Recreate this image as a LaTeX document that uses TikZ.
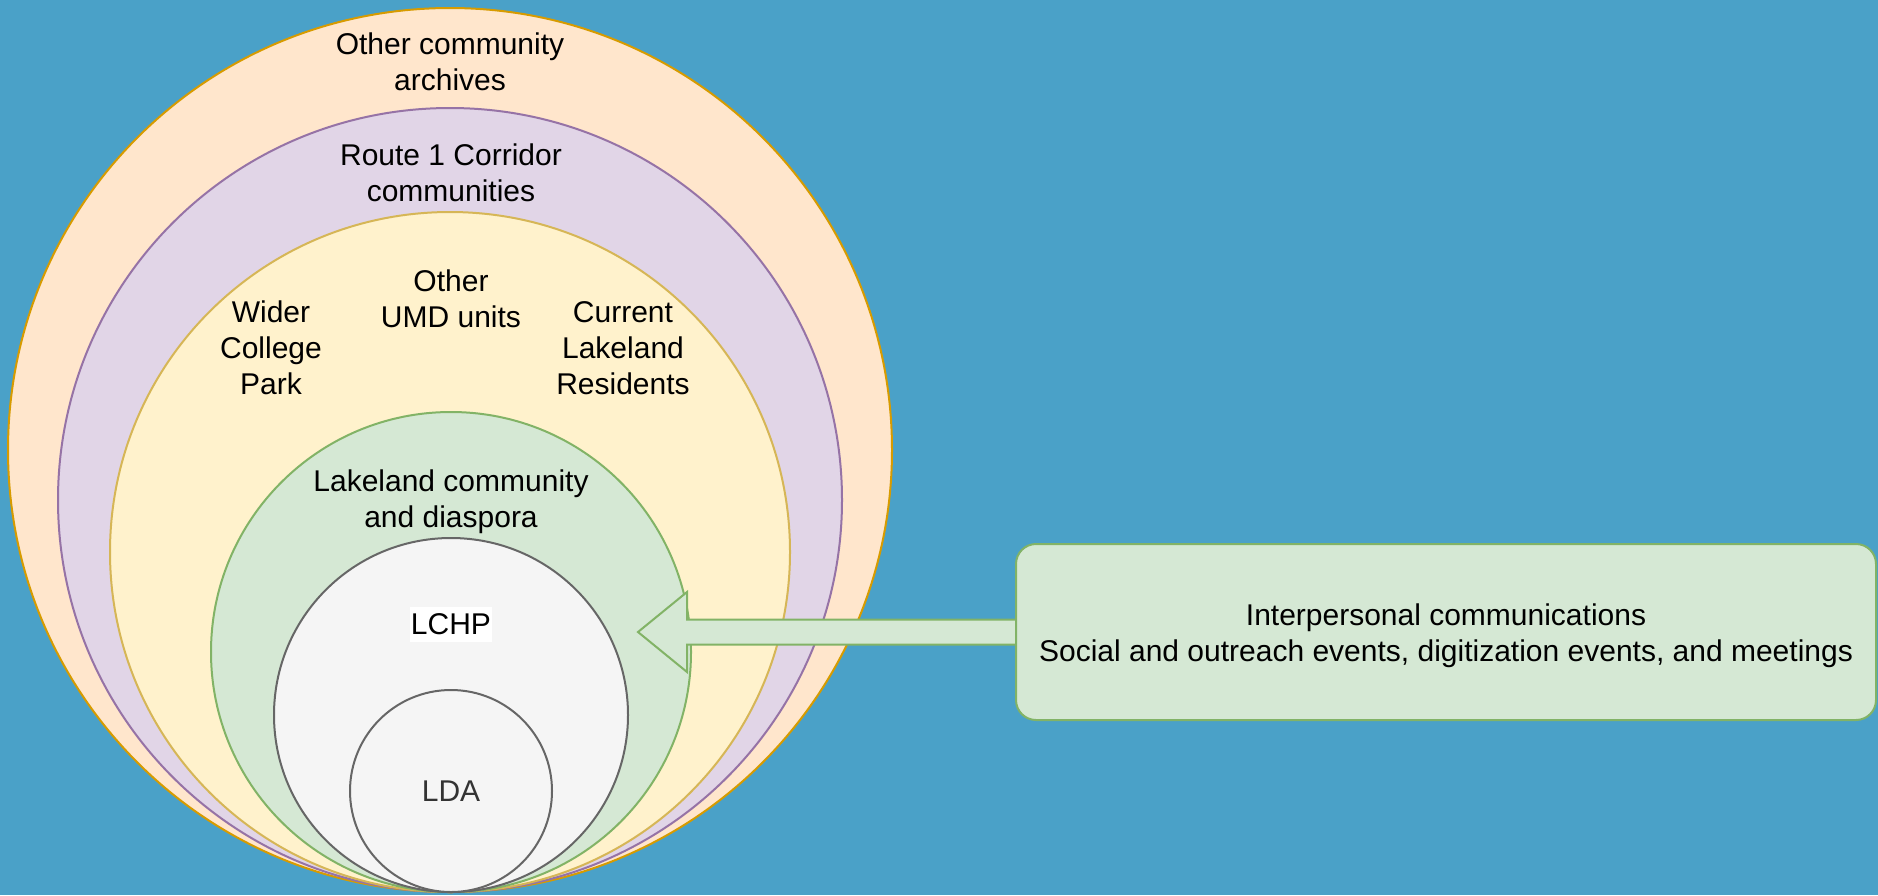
\documentclass[tikz,border=0pt]{standalone}
\usepackage{fontspec}
\setmainfont{Liberation Sans}
\usetikzlibrary{calc}
\pgfdeclarelayer{front}
\pgfsetlayers{main,front}
\definecolor{bgblue}{HTML}{4AA1C8}
\definecolor{orfill}{HTML}{FFE6CC}
\definecolor{orline}{HTML}{D79B00}
\definecolor{pufill}{HTML}{E1D5E7}
\definecolor{puline}{HTML}{9673A6}
\definecolor{yefill}{HTML}{FFF2CC}
\definecolor{yeline}{HTML}{D6B656}
\definecolor{grfill}{HTML}{D5E8D4}
\definecolor{grline}{HTML}{82B366}
\definecolor{gyfill}{HTML}{F5F5F5}
\definecolor{gyline}{HTML}{666666}
\definecolor{darktext}{HTML}{333333}
\begin{document}
\begin{tikzpicture}[x=1pt,y=-1pt,
  ring/.style={circle, inner sep=0pt, outer sep=0pt, line width=2pt},
  txt/.style={align=center, inner sep=0pt, text=black, font=\fontsize{30}{36}\selectfont},
  infobox/.style={rectangle, rounded corners=20pt, fill=grfill, draw=grline, line width=2pt,
    minimum width=860pt, minimum height=176pt, inner sep=0pt, outer sep=0pt},
  blockarrow/.style={fill=grfill, draw=grline, line width=2pt, line join=miter}]
\useasboundingbox (0,0) rectangle (1878,895);
\fill[bgblue] (0,0) rectangle (1878,895);
% nested circles, all touching at the bottom
\node[ring, fill=orfill, draw=orline, minimum size=884pt] (outer) at (450,450) {};
\node[ring, fill=pufill, draw=puline, minimum size=784pt] (route) at (450,500) {};
\node[ring, fill=yefill, draw=yeline, minimum size=680pt] (local) at (450,552) {};
\node[ring, fill=grfill, draw=grline, minimum size=480pt] (lake) at (451,652) {};
\node[ring, fill=gyfill, draw=gyline, minimum size=354pt] (lchp) at (451,715) {};
\node[ring, fill=gyfill, draw=gyline, minimum size=202pt] (lda) at (451,791) {};
% labels
\node[txt] (t1) at (450,61.5) {Other community\\archives};
\node[txt] (t2) at (451,172.5) {Route 1 Corridor\\communities};
\node[txt] (t3) at (451,299) {Other\\UMD units};
\node[txt] (t4) at (271,348) {Wider\\College\\Park};
\node[txt] (t5) at (623,348) {Current\\Lakeland\\Residents};
\node[txt] (t6) at (451,502) {Lakeland community\\and diaspora};
\node[txt, fill=white, inner xsep=1pt, minimum height=35pt] (t7) at (451,624.5) {LCHP};
\node[txt, text=darktext] (t8) at (451,791) {LDA};
% info box
\begin{pgfonlayer}{front}
\node[infobox] (box) at (1446,632) {};
\node[txt] (boxtext) at ($(box.center)+(0,3.5)$) {Interpersonal communications\\Social and outreach events, digitization events, and meetings};
\end{pgfonlayer}
% block arrow from the box into the green circle
\coordinate (tip) at (638,632);
\filldraw[blockarrow] ($(box.west)+(0,-12.5)$) -- ($(tip)+(49,-12.5)$) -- ($(tip)+(49,-40)$)
  -- (tip) -- ($(tip)+(49,40)$) -- ($(tip)+(49,12.5)$) -- ($(box.west)+(0,12.5)$);
\end{tikzpicture}
\end{document}
